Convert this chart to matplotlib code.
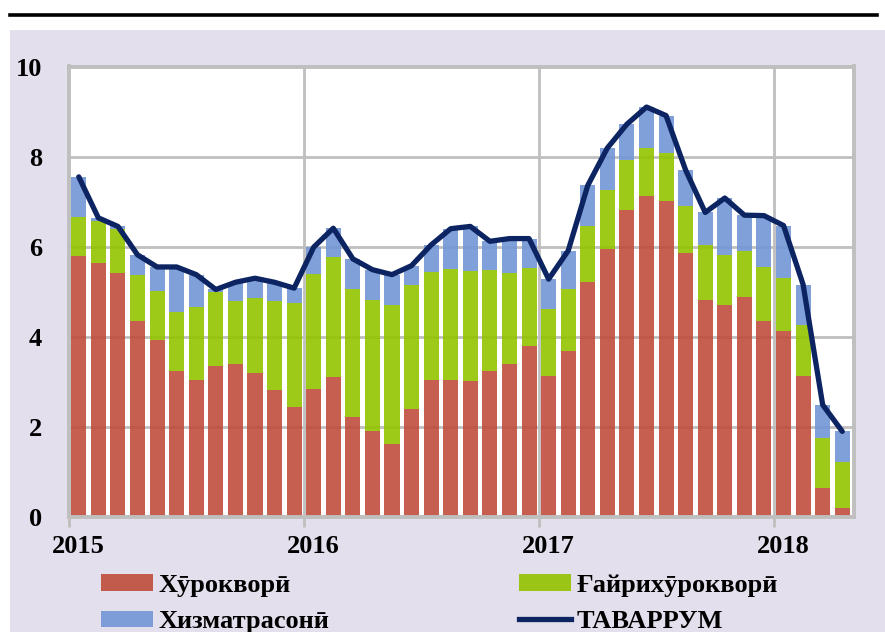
import numpy as np
import matplotlib
matplotlib.use("Agg")
import matplotlib.pyplot as plt
from matplotlib.patches import Rectangle, Patch
from matplotlib.lines import Line2D

# monthly data, Jan 2015 .. Apr 2018 (tops of each stacked segment)
red_top = [5.80, 5.63, 5.41, 4.36, 3.92, 3.24, 3.03, 3.35, 3.39, 3.19, 2.83, 2.45,
           2.85, 3.10, 2.23, 1.92, 1.63, 2.39, 3.03, 3.04, 3.01, 3.24, 3.39, 3.79,
           3.14, 3.69, 5.22, 5.96, 6.81, 7.12, 7.01, 5.86, 4.81, 4.71, 4.88, 4.34,
           4.12, 3.14, 0.65, 0.19]
green_top = [6.67, 6.58, 6.40, 5.38, 5.02, 4.54, 4.66, 5.00, 4.80, 4.87, 4.80, 4.75,
             5.40, 5.77, 5.07, 4.81, 4.70, 5.16, 5.43, 5.50, 5.46, 5.48, 5.41, 5.53,
             4.61, 5.07, 6.45, 7.25, 7.92, 8.19, 8.07, 6.90, 6.04, 5.81, 5.90, 5.55,
             5.30, 4.27, 1.75, 1.23]
total = [7.55, 6.64, 6.45, 5.82, 5.55, 5.55, 5.38, 5.05, 5.21, 5.30, 5.21, 5.08,
         5.99, 6.41, 5.73, 5.49, 5.38, 5.58, 6.04, 6.40, 6.45, 6.12, 6.18, 6.18,
         5.28, 5.91, 7.36, 8.19, 8.72, 9.10, 8.91, 7.70, 6.76, 7.08, 6.70, 6.69,
         6.47, 5.16, 2.49, 1.90]
years = ["2015", "2016", "2017", "2018"]
labels = ["Хӯрокворӣ", "Ғайрихӯрокворӣ", "Хизматрасонӣ", "ТАВАРРУМ"]

RED, GREEN, BLUE, NAVY = "#C04D3C", "#92C300", "#7296D6", "#0C2461"
GRID = "#BFBFBF"
FONT = ["Liberation Serif", "DejaVu Serif"]

red = np.array(red_top)
green = np.array(green_top) - red
blue = np.array(total) - np.array(green_top)
x = np.arange(len(red))

fig = plt.figure(figsize=(8.85, 6.32), dpi=100, facecolor="white")
fig.patches.append(Rectangle((10 / 885, 0), 1, 1 - 30 / 632, transform=fig.transFigure,
                             facecolor="#E4DFEC", edgecolor="none", zorder=-5))
fig.lines.append(Line2D([10 / 885, 877 / 885], [1 - 14.5 / 632] * 2, transform=fig.transFigure,
                        color="black", lw=2.6))

ax = fig.add_axes([69 / 885, 1 - 517 / 632, 785 / 885, 450.5 / 632])
ax.set_facecolor("white")
w = 0.77
ax.bar(x, red, w, color=RED, alpha=0.9, zorder=2)
ax.bar(x, green, w, bottom=red, color=GREEN, alpha=0.9, zorder=2)
ax.bar(x, blue, w, bottom=np.array(green_top), color=BLUE, alpha=0.9, zorder=2)
ax.plot(x, total, color=NAVY, lw=3.8, zorder=3, solid_capstyle="round")

ax.set_xlim(-0.5, 39.6)
ax.set_ylim(0, 10)
for xv in [11.5, 23.5, 35.5]:
    ax.axvline(xv, color=GRID, lw=2.0, zorder=1)
for yv in [2, 4, 6, 8]:
    ax.axhline(yv, color=GRID, lw=2.0, zorder=1)
for sp in ax.spines.values():
    sp.set_color(GRID)
    sp.set_linewidth(2.8)

ax.set_yticks([0, 2, 4, 6, 8, 10])
ax.set_yticklabels(["0", "2", "4", "6", "8", "10"])
ax.tick_params(axis="y", length=0, pad=19.5)
ax.set_xticks([0, 12, 24, 36])
ax.set_xticklabels(years)
ax.tick_params(axis="x", length=0, pad=13)
ax.set_xticks([-0.5, 11.5, 23.5, 35.5], minor=True)
ax.tick_params(axis="x", which="minor", length=7, width=2.0, color=GRID, direction="out")
for t in ax.get_xticklabels() + ax.get_yticklabels():
    t.set_fontfamily(FONT)
    t.set_fontweight("bold")
    t.set_fontsize(19)

# legend fills column by column: left column red/blue, right column green/line
handles = [Patch(facecolor=RED, alpha=0.9), Patch(facecolor=BLUE, alpha=0.9),
           Patch(facecolor=GREEN, alpha=0.9), Line2D([], [], color=NAVY, lw=3.8)]
order = [labels[0], labels[2], labels[1], labels[3]]
fig.legend(handles, order, loc="upper left", bbox_to_anchor=(101 / 885, 1 - 574 / 632),
           ncol=2, frameon=False, borderpad=0, borderaxespad=0, handlelength=1.97,
           handleheight=0.6, handletextpad=0.2, columnspacing=7.2, labelspacing=0.5,
           prop={"family": FONT, "weight": "bold", "size": 19})

fig.savefig("out.png", dpi=100, facecolor="white")
